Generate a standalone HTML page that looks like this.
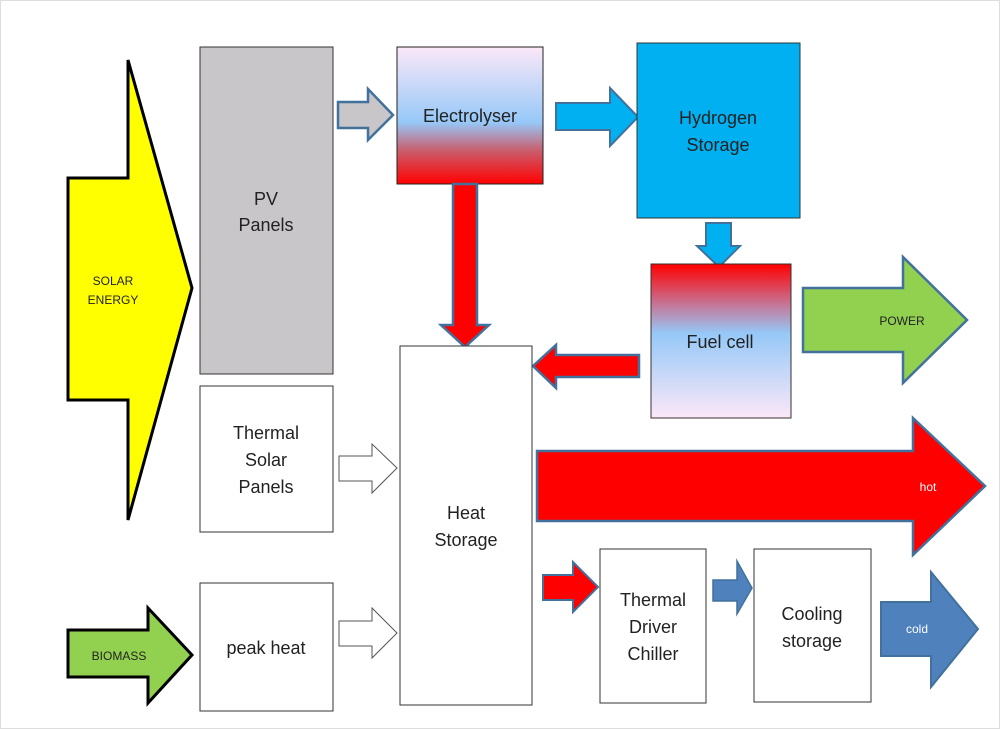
<!DOCTYPE html>
<html><head><meta charset="utf-8"><style>
html,body{margin:0;padding:0;background:#fff;}
svg{display:block;}
text{font-family:"Liberation Sans",sans-serif;fill:#222;}
</style></head><body>
<svg width="1000" height="729" viewBox="0 0 1000 729" xmlns="http://www.w3.org/2000/svg">
<defs>
<linearGradient id="el" x1="0" y1="0" x2="0" y2="1">
<stop offset="0" stop-color="#fce8f8"/><stop offset="0.55" stop-color="#96c8f8"/><stop offset="0.75" stop-color="#c86070"/><stop offset="1" stop-color="#ff0000"/></linearGradient>
<linearGradient id="fc" x1="0" y1="0" x2="0" y2="1">
<stop offset="0" stop-color="#ff0000"/><stop offset="0.25" stop-color="#c87090"/><stop offset="0.45" stop-color="#96c8f8"/><stop offset="1" stop-color="#fce8f8"/></linearGradient>
</defs>
<rect x="0.5" y="0.5" width="999" height="728" fill="#fff" stroke="#ddd"/>
<!-- solar -->
<polygon points="68,178 128,178 128,60 192,288 128,520 128,400 68,400" fill="#ffff00" stroke="#000" stroke-width="3"/>
<text x="113" y="285" font-size="12" text-anchor="middle">SOLAR</text>
<text x="113" y="304" font-size="12" text-anchor="middle">ENERGY</text>
<!-- PV -->
<rect x="200" y="47" width="133" height="327" fill="#c8c6c8" stroke="#333"/>
<text x="266" y="205" font-size="18" text-anchor="middle">PV</text>
<text x="266" y="231" font-size="18" text-anchor="middle">Panels</text>
<polygon points="338,102 368,102 368,89 393,115 368,140 368,128 338,128" fill="#c8c6c8" stroke="#41719c" stroke-width="2.5"/>
<!-- electrolyser -->
<rect x="397" y="47" width="146" height="137" fill="url(#el)" stroke="#222"/>
<text x="470" y="122" font-size="18" text-anchor="middle">Electrolyser</text>
<polygon points="556,103 610,103 610,88 638,117 610,146 610,130 556,130" fill="#00b0f0" stroke="#41719c" stroke-width="2"/>
<!-- hydrogen -->
<rect x="637" y="43" width="163" height="175" fill="#00b0f0" stroke="#333"/>
<text x="718" y="124" font-size="18" text-anchor="middle">Hydrogen</text>
<text x="718" y="151" font-size="18" text-anchor="middle">Storage</text>
<polygon points="706,223 731,223 731,246 740,246 719,267 697,246 706,246" fill="#00b0f0" stroke="#41719c" stroke-width="2"/>
<!-- fuel cell -->
<rect x="651" y="264" width="140" height="154" fill="url(#fc)" stroke="#333"/>
<text x="720" y="348" font-size="18" text-anchor="middle">Fuel cell</text>
<polygon points="803,288 903,288 903,257 967,320 903,383 903,352 803,352" fill="#92d050" stroke="#41719c" stroke-width="2.5"/>
<text x="902" y="325" font-size="12" text-anchor="middle">POWER</text>
<!-- red down -->
<polygon points="453,184 477,184 477,325 489,325 465,347 441,325 453,325" fill="#ff0000" stroke="#41719c" stroke-width="2.5"/>
<!-- red left -->
<polygon points="639,355 556,355 556,345 533,366 556,388 556,377 639,377" fill="#ff0000" stroke="#41719c" stroke-width="2.5"/>
<!-- heat storage -->
<rect x="400" y="346" width="132" height="359" fill="#fff" stroke="#333"/>
<text x="466" y="519" font-size="18" text-anchor="middle">Heat</text>
<text x="466" y="546" font-size="18" text-anchor="middle">Storage</text>
<!-- thermal solar -->
<rect x="200" y="386" width="133" height="146" fill="#fff" stroke="#333"/>
<text x="266" y="439" font-size="18" text-anchor="middle">Thermal</text>
<text x="266" y="466" font-size="18" text-anchor="middle">Solar</text>
<text x="266" y="493" font-size="18" text-anchor="middle">Panels</text>
<polygon points="339,456 372,456 372,444 397,468 372,493 372,481 339,481" fill="#fff" stroke="#555" stroke-width="1"/>
<!-- peak heat -->
<rect x="200" y="583" width="133" height="128" fill="#fff" stroke="#333"/>
<text x="266" y="654" font-size="18" text-anchor="middle">peak heat</text>
<polygon points="339,621 372,621 372,608 397,633 372,658 372,646 339,646" fill="#fff" stroke="#555" stroke-width="1"/>
<!-- biomass -->
<polygon points="68,630 148,630 148,608 192,655 148,703 148,677 68,677" fill="#92d050" stroke="#000" stroke-width="3"/>
<text x="119" y="660" font-size="12" text-anchor="middle">BIOMASS</text>
<!-- hot -->
<polygon points="537,451 913,451 913,418 985,486 913,555 913,521 537,521" fill="#ff0000" stroke="#41719c" stroke-width="2.5"/>
<text x="928" y="491" font-size="12" fill="#fff" text-anchor="middle" style="fill:#fff">hot</text>
<!-- red small -->
<polygon points="543,575 573,575 573,562 598,587 573,612 573,600 543,600" fill="#ff0000" stroke="#41719c" stroke-width="2"/>
<!-- chiller -->
<rect x="600" y="549" width="106" height="154" fill="#fff" stroke="#333"/>
<text x="653" y="606" font-size="18" text-anchor="middle">Thermal</text>
<text x="653" y="633" font-size="18" text-anchor="middle">Driver</text>
<text x="653" y="660" font-size="18" text-anchor="middle">Chiller</text>
<polygon points="713,580 737,580 737,561 752,588 737,614 737,601 713,601" fill="#4f81bd" stroke="#41719c" stroke-width="1.5"/>
<!-- cooling -->
<rect x="754" y="549" width="117" height="153" fill="#fff" stroke="#333"/>
<text x="812" y="620" font-size="18" text-anchor="middle">Cooling</text>
<text x="812" y="647" font-size="18" text-anchor="middle">storage</text>
<polygon points="881,602 931,602 931,572 978,629 931,687 931,656 881,656" fill="#4f81bd" stroke="#41719c" stroke-width="2"/>
<text x="917" y="633" font-size="12" text-anchor="middle" style="fill:#fff">cold</text>
</svg>
</body></html>
